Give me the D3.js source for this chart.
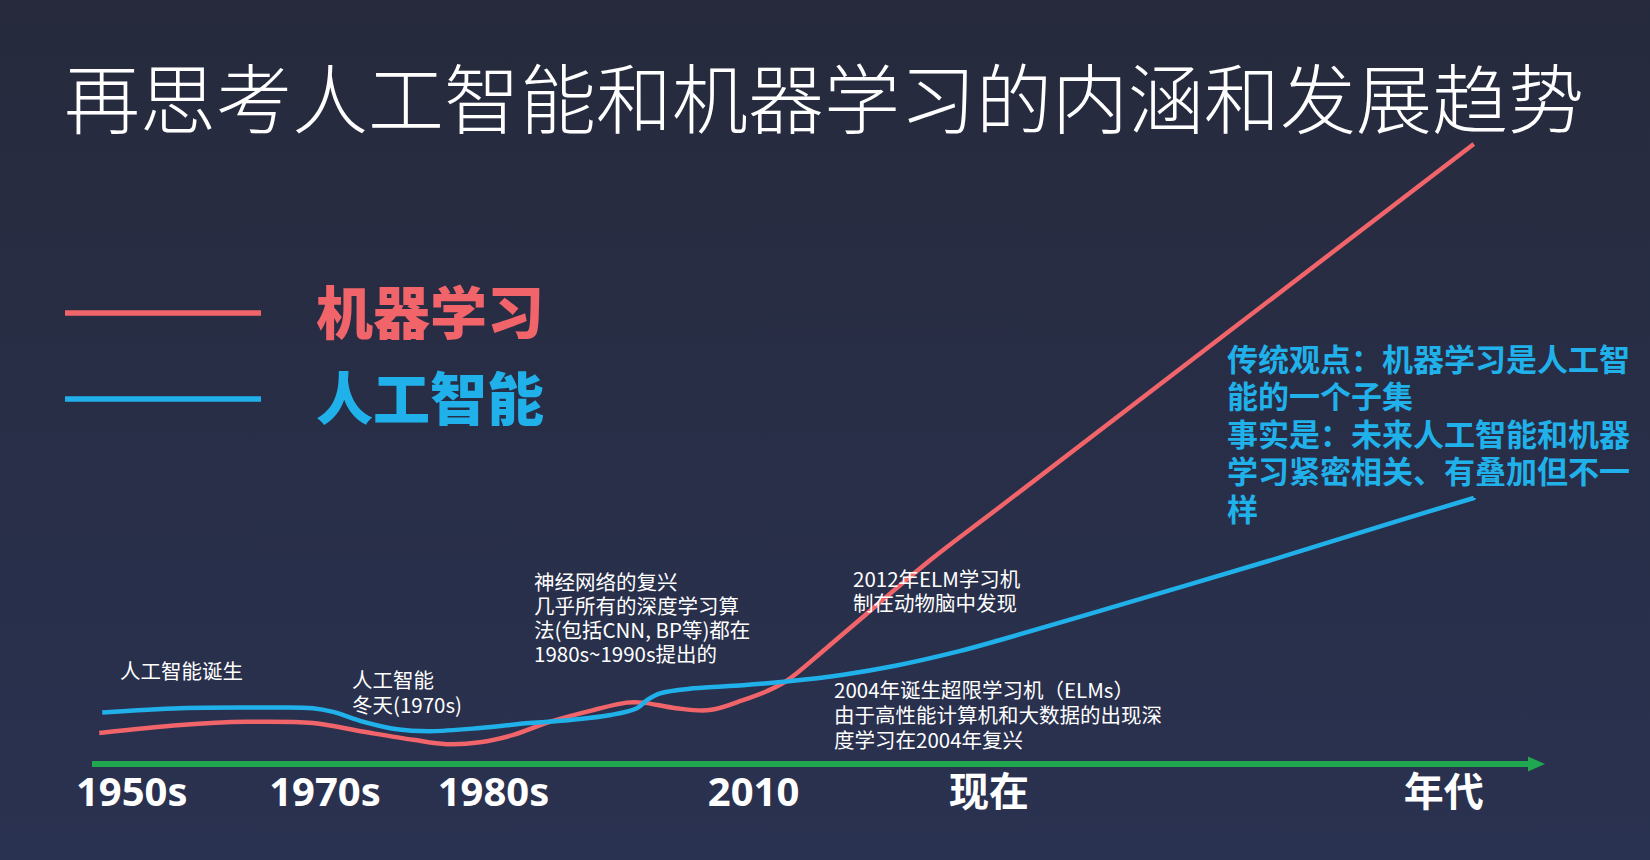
<!DOCTYPE html>
<html>
<head>
<meta charset="utf-8">
<script src="https://cdn.jsdelivr.net/npm/d3@7"></script>
<style>
  html, body { margin:0; padding:0; background:#282c40; overflow:hidden; }
  svg { display:block; }
  text { font-family:"Noto Sans CJK SC", "Noto Sans", sans-serif; }
</style>
</head>
<body>
<svg id="chart" width="1650" height="860"></svg>
<script>
// ---- data ----
var title = '再思考人工智能和机器学习的内涵和发展趋势';
var seriesNames = ['机器学习', '人工智能'];
var seriesColors = ['#f0646a', '#20b1ea'];

// timeline ticks (position along the arrow, 0..100)
var tickLabels = ['1950s', '1970s', '1980s', '2010', '现在', '年代'];
var tickPos = [2.7, 16.0, 27.6, 45.5, 61.7, 93.0];

// 机器学习 curve
var mlT = [0.5, 6.1, 10.7, 15.2, 18.7, 22.1, 24.4, 26.7, 29.0, 31.5, 34.5, 36.8, 37.9, 40.2, 42.5, 44.8, 46.4, 47.8, 50.5, 53.2, 57.7, 62.5, 95.1];
var mlV = [5.0, 6.3, 6.8, 6.6, 5.2, 3.9, 3.2, 3.5, 4.7, 6.8, 8.7, 9.9, 9.9, 9.0, 8.7, 10.3, 11.7, 13.4, 18.6, 24.0, 32.9, 41.5, 100];

// 人工智能 curve
var aiT = [0.7, 6.1, 11.8, 15.2, 16.6, 18.7, 21.0, 23.3, 26.7, 30.1, 32.9, 35.7, 37.5, 38.2, 39.1, 41.4, 44.8, 47.8, 51.7, 55.2, 59.7, 62.5, 71.7, 80.9, 90.0, 95.1];
var aiV = [8.3, 9.0, 9.1, 9.0, 8.4, 6.8, 5.6, 5.3, 5.8, 6.6, 7.1, 7.9, 9.0, 10.3, 11.4, 12.2, 12.7, 13.3, 14.4, 15.8, 18.2, 20.0, 26.3, 32.7, 39.3, 42.9];

var noteLines = [
  '传统观点：机器学习是人工智',
  '能的一个子集',
  '事实是：未来人工智能和机器',
  '学习紧密相关、有叠加但不一',
  '样'
];

var events = [
  ['人工智能诞生'],
  ['人工智能', '冬天(1970s)'],
  ['神经网络的复兴', '几乎所有的深度学习算', '法(包括CNN, BP等)都在', '1980s~1990s提出的'],
  ['2012年ELM学习机', '制在动物脑中发现'],
  ['2004年诞生超限学习机（ELMs）', '由于高性能计算机和大数据的出现深', '度学习在2004年复兴']
];

// ---- layout ----
var W = 1650, H = 860;
var svg = d3.select('#chart');

var defs = svg.append('defs');
var grad = defs.append('linearGradient').attr('id', 'bg').attr('x1', 0).attr('y1', 0).attr('x2', 0).attr('y2', 1);
grad.append('stop').attr('offset', '0%').attr('stop-color', '#262a3c');
grad.append('stop').attr('offset', '100%').attr('stop-color', '#2a3251');
svg.append('rect').attr('width', W).attr('height', H).attr('fill', 'url(#bg)');

var x = d3.scaleLinear().domain([0, 100]).range([92, 1545]);
var y = d3.scaleLinear().domain([0, 100]).range([764, 144]);

// title
svg.append('text')
  .attr('x', 64).attr('y', 128)
  .attr('fill', '#ffffff')
  .style('font-size', '76px')
  .style('font-weight', 300)
  .text(title);

// legend
var legend = svg.append('g').selectAll('g')
  .data(seriesNames)
  .enter().append('g')
  .attr('transform', function(d, i){ return 'translate(0,' + (313 + i * 86) + ')'; });

legend.append('line')
  .attr('x1', 65).attr('x2', 261)
  .attr('stroke', function(d, i){ return seriesColors[i]; })
  .attr('stroke-width', 5.3);

legend.append('text')
  .attr('x', 316).attr('y', 21)
  .attr('fill', function(d, i){ return seriesColors[i]; })
  .style('font-size', '57px')
  .style('font-weight', 900)
  .text(function(d){ return d; });

// axis
var axis = d3.axisBottom(x)
  .tickValues(tickPos)
  .tickFormat(function(d, i){ return tickLabels[i]; })
  .tickSize(0)
  .tickSizeOuter(0);

var axisG = svg.append('g')
  .attr('transform', 'translate(0,' + y(0) + ')')
  .call(axis);

axisG.select('.domain').remove();

axisG.selectAll('text')
  .attr('y', 42).attr('dy', 0)
  .attr('fill', '#ffffff')
  .style('font-family', '"Noto Sans", "Noto Sans CJK SC", sans-serif')
  .style('font-size', '40px')
  .style('font-weight', 700);

var arrowLen = 17;
axisG.append('line')
  .attr('x1', x(0)).attr('x2', x(100) - arrowLen + 2)
  .attr('stroke', '#1fa84f')
  .attr('stroke-width', 6);

axisG.append('path')
  .attr('d', 'M' + x(100) + ',0 L' + (x(100) - arrowLen) + ',-7.5 L' + (x(100) - arrowLen) + ',7.5 Z')
  .attr('fill', '#1fa84f');

// curves
var line = d3.line()
  .x(function(d){ return x(d[0]); })
  .y(function(d){ return y(d[1]); })
  .curve(d3.curveCatmullRom.alpha(0.5));

var curves = [d3.zip(mlT, mlV), d3.zip(aiT, aiV)];

svg.append('g').selectAll('path')
  .data(curves)
  .enter().append('path')
  .attr('d', line)
  .attr('fill', 'none')
  .attr('stroke', function(d, i){ return seriesColors[i]; })
  .attr('stroke-width', 4.5);

// event notes
var eventPos = [[120, 679, 25], [352, 688, 25], [534, 590, 24], [853, 587, 24], [834, 698, 25]];

events.forEach(function(lines, i){
  var p = eventPos[i];
  svg.append('text')
    .attr('x', p[0]).attr('y', p[1])
    .attr('fill', '#ffffff')
    .style('font-size', '20.5px')
    .selectAll('tspan')
    .data(lines)
    .enter().append('tspan')
    .attr('x', p[0])
    .attr('dy', function(d, j){ return j === 0 ? 0 : p[2]; })
    .text(function(d){ return d; });
});

// blue note
svg.append('text')
  .attr('x', 1227).attr('y', 371)
  .attr('fill', seriesColors[1])
  .style('font-size', '31px')
  .style('font-weight', 700)
  .selectAll('tspan')
  .data(noteLines)
  .enter().append('tspan')
  .attr('x', 1227)
  .attr('dy', function(d, j){ return j === 0 ? 0 : 37.4; })
  .text(function(d){ return d; });
</script>
</body>
</html>
